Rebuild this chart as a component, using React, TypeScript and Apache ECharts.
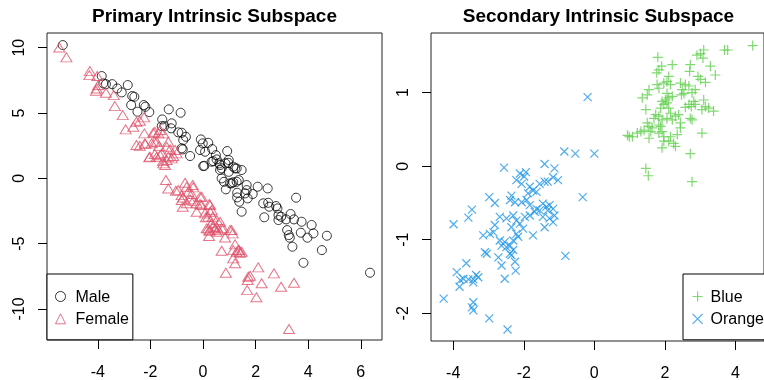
import React, { useEffect, useRef } from "react";
import * as echarts from "echarts";

const maleData: number[][] = [
  [-5.33, 10.2], [-3.85, 7.83], [-3.79, 7.27], [-3.69, 7.21], [-3.45, 7.21], [-3.26, 6.88], [-3.09, 6.58],
  [-2.86, 7.14], [-2.69, 6.3], [-2.61, 6.24], [-2.73, 5.61], [-2.49, 5.1], [-2.25, 5.61], [-2.19, 5.48],
  [-2.04, 5.07], [-1.3, 5.28], [-0.85, 5.02], [-1.55, 4.51], [-1.57, 4.0], [-1.47, 4.0], [-1.19, 4.21],
  [-1.21, 3.83], [-0.94, 3.52], [-0.81, 3.49], [-0.65, 3.18], [-0.75, 2.93], [-0.81, 2.3], [-0.77, 2.22],
  [-0.49, 1.71], [-0.08, 2.98], [-0.01, 2.68], [0.2, 2.72], [-0.11, 2.17], [0.08, 2.04], [0.35, 2.24],
  [0.49, 1.78], [0.05, 0.96], [0.39, 1.32], [0.52, 1.45], [0.65, 1.02], [0.92, 2.09], [0.98, 1.4],
  [0.85, 1.15], [0.98, 0.5], [1.15, 0.89], [1.28, 0.76], [1.47, 0.64], [0.65, 0.64], [0.71, 0.0],
  [0.8, -0.26], [1.03, -0.38], [1.28, -0.26], [1.36, -0.13], [1.66, -0.51], [2.08, -0.64], [2.46, -0.77],
  [0.87, -0.84], [1.3, -1.1], [1.66, -0.9], [1.89, -1.2], [1.3, -1.46], [1.38, -1.79], [1.7, -1.53],
  [1.47, -2.55], [2.29, -1.91], [2.48, -1.87], [2.52, -2.17], [2.78, -2.12], [2.83, -2.3], [2.33, -2.98],
  [2.87, -2.81], [2.97, -2.94], [2.87, -3.19], [3.16, -3.14], [3.33, -2.73], [3.46, -3.14], [3.54, -1.48],
  [3.75, -3.32], [4.13, -3.57], [3.2, -3.96], [3.26, -4.34], [3.3, -4.54], [3.4, -5.23], [3.72, -4.16],
  [3.97, -4.54], [4.2, -4.21], [4.71, -4.39], [4.52, -5.49], [3.82, -6.46], [6.35, -7.22],
  [0.01, 0.94], [0.33, 1.27], [0.62, 1.15], [0.96, 1.19], [0.71, 0.77], [1.22, 0.77], [1.09, -0.38],
  [1.6, -1.15], [1.15, -0.3],
];

const femaleData: number[][] = [
  [-5.46, 10.02], [-5.19, 9.26], [-4.3, 8.21], [-4.32, 7.9], [-4.02, 7.83], [-4.04, 6.88], [-4.07, 6.7],
  [-3.98, 7.14], [-3.69, 6.55], [-3.39, 6.37], [-3.35, 5.53], [-3.05, 4.84], [-2.94, 3.75], [-2.65, 3.95],
  [-2.53, 4.33], [-2.4, 4.41], [-2.24, 4.67], [-2.23, 3.44], [-2.53, 2.55], [-2.4, 2.49], [-2.19, 2.62],
  [-1.89, 3.49], [-1.7, 3.44], [-1.83, 2.8], [-1.67, 2.47], [-1.32, 2.8], [-2.04, 1.61], [-1.83, 1.86],
  [-1.76, 1.65], [-1.63, 1.78], [-1.52, 1.32], [-1.44, 1.02], [-1.32, 1.65], [-1.19, 1.53], [-1.13, 1.71],
  [-1.0, 1.91], [-1.41, -0.13], [-0.68, -0.34], [-0.39, -0.51], [-1.32, -0.77], [-1.03, -0.95],
  [-0.62, -0.64], [-0.81, -1.28], [-0.75, -1.46], [-0.77, -2.17], [-0.56, -1.02], [-0.43, -1.2],
  [-0.37, -0.69], [-0.49, -1.61], [-0.37, -1.71], [-0.11, -1.41], [-0.24, -2.55], [-0.11, -1.97],
  [0.08, -2.68], [0.11, -2.98], [0.24, -1.97], [0.27, -2.55], [0.37, -2.94], [0.33, -3.44], [0.2, -3.83],
  [0.24, -4.01], [0.23, -4.41], [0.46, -3.83], [0.58, -3.96], [0.52, -3.7], [0.65, -3.32], [0.71, -3.83],
  [1.03, -3.96], [1.13, -4.21], [0.84, -4.52], [0.71, -5.54], [1.22, -5.05], [1.15, -5.49], [1.28, -5.62],
  [1.38, -5.49], [1.41, -5.69], [1.15, -6.12], [1.22, -6.5], [0.87, -7.22], [1.72, -7.53], [1.79, -7.45],
  [1.7, -7.78], [1.68, -8.55], [2.1, -6.81], [2.23, -8.03], [2.03, -9.1], [2.7, -7.27], [2.97, -8.29],
  [3.46, -7.99], [3.27, -11.53],
  [-2.21, 2.68], [-1.95, 2.68], [-1.76, 2.8], [-1.38, 2.42], [-2.02, 1.65], [-1.57, 1.91], [-1.25, 2.22],
  [-1.06, 2.17], [-1.38, 1.4], [-1.51, 1.15], [-1.83, 3.57], [-1.63, 3.7], [-1.51, 3.44], [-0.94, -0.9],
  [-0.05, -1.41], [0.27, -2.04], [-0.81, -1.66], [-0.62, -1.91], [-0.24, -1.91], [-0.05, -2.04],
  [0.2, -2.94], [0.33, -2.43], [0.52, -3.19], [0.77, -3.83], [0.39, -3.7], [0.14, -3.83], [0.27, -3.96],
  [0.52, -4.08], [1.09, -3.96], [1.34, -5.49], [1.47, -5.62],
];

const blueData: number[][] = [
  [4.49, 1.64], [3.69, 1.58], [3.78, 1.58], [3.1, 1.58], [3.01, 1.53], [2.91, 1.51], [3.08, 1.47],
  [1.8, 1.48], [2.21, 1.38], [2.72, 1.38], [3.29, 1.36], [1.91, 1.36], [1.83, 1.31], [1.77, 1.27],
  [2.7, 1.29], [3.43, 1.24], [2.94, 1.22], [3.15, 1.14], [3.01, 1.18], [2.11, 1.22], [2.06, 1.15],
  [1.97, 1.13], [2.16, 1.11], [1.78, 1.11], [1.83, 1.06], [2.44, 1.13], [2.58, 1.11], [2.68, 1.09],
  [2.49, 1.04], [2.86, 1.04], [2.77, 1.0], [1.55, 1.04], [1.5, 0.97], [1.36, 0.93], [2.06, 0.99],
  [2.11, 0.93], [2.21, 0.95], [2.02, 0.9], [2.47, 0.97], [2.54, 0.99], [2.82, 0.88], [2.86, 0.84],
  [2.68, 0.84], [2.75, 0.81], [2.58, 0.8], [3.1, 0.9], [3.15, 0.81], [3.24, 0.79], [3.38, 0.75],
  [3.05, 0.77], [1.92, 0.88], [1.97, 0.84], [2.06, 0.86], [1.88, 0.79], [2.11, 0.79], [1.46, 0.77],
  [1.74, 0.7], [1.69, 0.65], [1.83, 0.68], [1.92, 0.63], [2.06, 0.65], [2.21, 0.63], [2.3, 0.68],
  [2.16, 0.72], [2.39, 0.7], [2.44, 0.59], [2.44, 0.52], [2.72, 0.65], [2.77, 0.63], [1.5, 0.59],
  [1.55, 0.54], [1.6, 0.47], [1.41, 0.49], [1.32, 0.47], [1.22, 0.45], [0.99, 0.4], [1.55, 0.38],
  [1.64, 0.52], [1.83, 0.56], [1.88, 0.54], [1.92, 0.47], [1.83, 0.45], [1.97, 0.4], [2.16, 0.4],
  [2.11, 0.34], [2.25, 0.31], [2.35, 0.43], [2.3, 0.27], [1.92, 0.25], [1.97, 0.34], [3.05, 0.45],
  [2.72, 0.17], [1.46, -0.03], [1.53, -0.13], [2.77, -0.21], [0.94, 0.42], [1.08, 0.4],
];

const orangeData: number[][] = [
  [-0.19, 0.94], [-0.85, 0.2], [-0.54, 0.17], [0.0, 0.17], [-2.56, -0.02], [-1.41, 0.03], [-1.13, -0.03],
  [-2.11, -0.1], [-1.94, -0.08], [-1.99, -0.14], [-2.21, -0.19], [-2.06, -0.24], [-1.83, -0.28],
  [-1.74, -0.33], [-1.88, -0.37], [-1.55, -0.24], [-1.41, -0.21], [-1.17, -0.15], [-1.03, -0.19],
  [-1.32, -0.21], [-1.64, -0.35], [-2.35, -0.4], [-2.25, -0.49], [-2.39, -0.46], [-2.06, -0.49],
  [-1.92, -0.46], [-1.83, -0.53], [-1.64, -0.58], [-1.46, -0.51], [-1.36, -0.55], [-1.27, -0.53],
  [-1.17, -0.58], [-1.32, -0.6], [-1.13, -0.67], [-1.46, -0.69], [-1.27, -0.71], [-1.17, -0.76],
  [-1.41, -0.83], [-0.33, -0.42], [-2.98, -0.42], [-2.82, -0.5], [-3.47, -0.59], [-3.57, -0.7],
  [-3.99, -0.79], [-2.68, -0.69], [-2.49, -0.71], [-2.3, -0.67], [-2.21, -0.74], [-2.11, -0.78],
  [-1.97, -0.69], [-1.83, -0.67], [-1.69, -0.62], [-1.55, -0.6], [-2.35, -0.83], [-2.21, -0.92],
  [-2.02, -0.85], [-2.16, -0.96], [-2.3, -1.01], [-2.82, -0.8], [-2.86, -0.9], [-3.15, -0.94],
  [-2.96, -0.92], [-1.74, -0.94], [-2.68, -1.01], [-2.54, -1.03], [-2.63, -1.08], [-2.49, -1.1],
  [-2.39, -1.08], [-2.3, -1.14], [-2.39, -1.19], [-2.35, -1.21], [-3.1, -1.17], [-3.05, -1.19],
  [-2.72, -1.24], [-2.63, -1.35], [-2.54, -1.53], [-2.25, -1.3], [-2.23, -1.42], [-0.82, -1.22],
  [-3.63, -1.32], [-3.9, -1.44], [-3.8, -1.55], [-3.71, -1.53], [-3.82, -1.64], [-3.57, -1.54],
  [-3.43, -1.54], [-3.35, -1.48], [-3.29, -1.51], [-3.43, -1.58], [-4.27, -1.8], [-3.43, -1.85],
  [-3.47, -1.92], [-3.43, -1.96], [-2.98, -2.07], [-2.46, -2.22],
];

const leftXTicks = [-4, -2, 0, 2, 4, 6];
const leftYTicks = [-10, -5, 0, 5, 10];
const rightXTicks = [-4, -2, 0, 2, 4];
const rightYTicks = [-2, -1, 0, 1];

const PLUS = "path://M5,0L5,10M0,5L10,5";
const CROSS = "path://M0,0L10,10M0,10L10,0";

export default function App() {
  const ref = useRef<HTMLDivElement>(null);
  useEffect(() => {
    const chart = echarts.init(ref.current!, null, { renderer: "svg" });
    const font = "'Liberation Sans', Arial, Helvetica, sans-serif";
    const xAxis = (ticks: number[], min: number, max: number, grid: number) => ({
      type: "value",
      gridIndex: grid,
      position: "bottom",
      min,
      max,
      axisLine: { show: false, onZero: false },
      splitLine: { show: false },
      axisTick: { show: true, inside: false, length: 9, customValues: ticks, lineStyle: { color: "#000", width: 1 } },
      axisLabel: { customValues: ticks, color: "#000", fontSize: 16, lineHeight: 16, fontFamily: font, margin: 23 },
    });
    const yAxis = (ticks: number[], min: number, max: number, grid: number) => ({
      type: "value",
      gridIndex: grid,
      position: "left",
      min,
      max,
      axisLine: { show: false, onZero: false },
      splitLine: { show: false },
      axisTick: { show: true, inside: false, length: 9, customValues: ticks, lineStyle: { color: "#000", width: 1 } },
      axisLabel: { customValues: ticks, color: "#000", fontSize: 16, lineHeight: 16, fontFamily: font, margin: 21, rotate: 90 },
    });
    const legendBase = {
      orient: "vertical",
      top: 274,
      itemWidth: 10,
      itemHeight: 10,
      itemGap: 6.3,
      backgroundColor: "#fff",
      borderColor: "#000",
      borderWidth: 1,
      borderRadius: 0,
      selectedMode: false,
      textStyle: { fontSize: 16, lineHeight: 16, color: "#000", fontFamily: font, padding: [0, 0, 0, 5] },
    };
    chart.setOption({
      animation: false,
      title: [
        {
          text: "Primary Intrinsic Subspace",
          left: 214.5,
          top: 5.6,
          textAlign: "center",
          padding: 0,
          textStyle: { fontSize: 19, fontWeight: "bold", color: "#000", fontFamily: font, lineHeight: 19 },
        },
        {
          text: "Secondary Intrinsic Subspace",
          left: 598.5,
          top: 5.6,
          textAlign: "center",
          padding: 0,
          textStyle: { fontSize: 19, fontWeight: "bold", color: "#000", fontFamily: font, lineHeight: 19 },
        },
      ],
      grid: [
        { left: 47, top: 33, width: 335, height: 307, show: true, borderColor: "#222", borderWidth: 1, backgroundColor: "transparent" },
        { left: 431, top: 33, width: 335, height: 308, show: true, borderColor: "#222", borderWidth: 1, backgroundColor: "transparent" },
      ],
      xAxis: [xAxis(leftXTicks, -5.93, 6.806, 0), xAxis(rightXTicks, -4.63, 4.81, 1)],
      yAxis: [yAxis(leftYTicks, -12.37, 11.125, 0), yAxis(rightYTicks, -2.377, 1.811, 1)],
      legend: [
        {
          ...legendBase,
          left: 47,
          padding: [14.5, 4, 13, 8],
          data: [
            { name: "Male", icon: "circle", itemStyle: { color: "rgba(0,0,0,0)", borderColor: "#000", borderWidth: 1 } },
            { name: "Female", icon: "triangle", itemStyle: { color: "rgba(0,0,0,0)", borderColor: "#DF536B", borderWidth: 1 } },
          ],
        },
        {
          ...legendBase,
          left: 683,
          padding: [14.5, 10, 13, 9],
          textStyle: { ...legendBase.textStyle, padding: [0, 0, 0, 3] },
          data: [
            { name: "Blue", icon: PLUS, itemStyle: { color: "rgba(0,0,0,0)", borderColor: "#61D04F", borderWidth: 1.2 } },
            { name: "Orange", icon: CROSS, itemStyle: { color: "rgba(0,0,0,0)", borderColor: "#2297E6", borderWidth: 1.2 } },
          ],
        },
      ],
      series: [
        {
          type: "scatter", name: "Male", xAxisIndex: 0, yAxisIndex: 0, data: maleData,
          symbol: "circle", symbolSize: 9,
          itemStyle: { color: "rgba(0,0,0,0)", borderColor: "#000", borderWidth: 1 },
        },
        {
          type: "scatter", name: "Female", xAxisIndex: 0, yAxisIndex: 0, data: femaleData,
          symbol: "triangle", symbolSize: [11, 9],
          itemStyle: { color: "rgba(0,0,0,0)", borderColor: "#DF536B", borderWidth: 1 },
        },
        {
          type: "scatter", name: "Blue", xAxisIndex: 1, yAxisIndex: 1, data: blueData,
          symbol: PLUS, symbolSize: 10,
          itemStyle: { color: "rgba(0,0,0,0)", borderColor: "#61D04F", borderWidth: 1.2 },
        },
        {
          type: "scatter", name: "Orange", xAxisIndex: 1, yAxisIndex: 1, data: orangeData,
          symbol: CROSS, symbolSize: 8,
          itemStyle: { color: "rgba(0,0,0,0)", borderColor: "#2297E6", borderWidth: 1.2 },
        },
      ],
    });
    return () => chart.dispose();
  }, []);
  return <div ref={ref} style={{ position: "fixed", left: 0, top: 0, width: 764, height: 380 }} />;
}
